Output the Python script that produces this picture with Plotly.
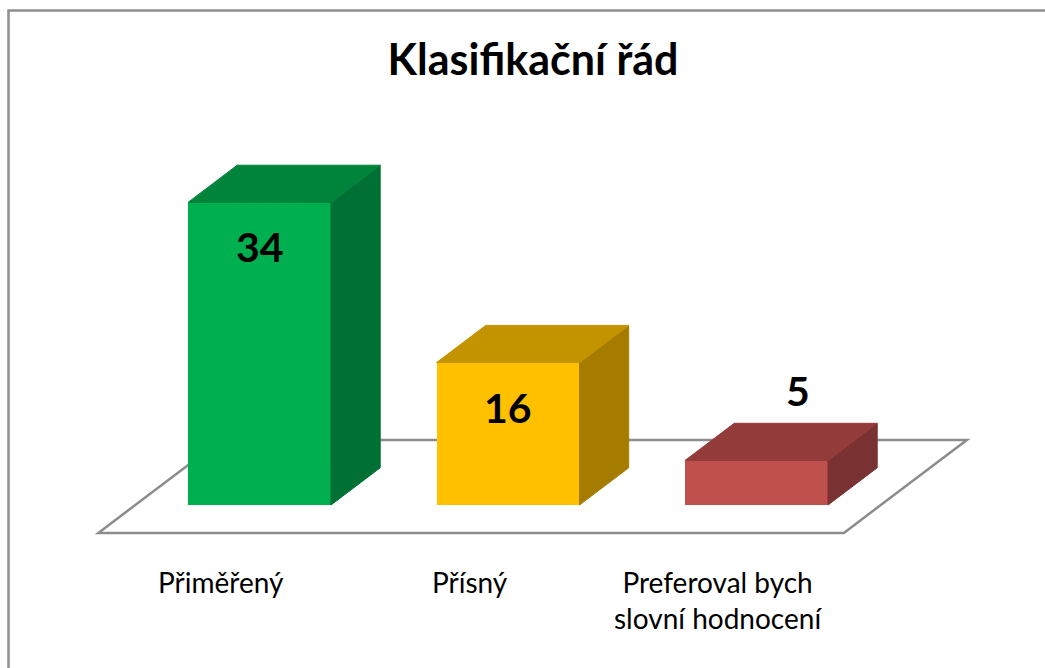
import plotly.graph_objects as go

# ---- data ----
categories = ["Přiměřený", "Přísný", "Preferoval bych<br>slovní hodnocení"]
values = [34, 16, 5]
front_colors = ["#00b050", "#ffc000", "#c0504d"]
top_colors = ["#00843c", "#c49300", "#943b3b"]
side_colors = ["#007034", "#a67c00", "#7a3131"]
title_text = "Klasifikační řád"

# ---- geometry (pseudo-3D projection, in axis units) ----
W, H = 1045, 668
PX_PER_CAT = 248.5
PX_PER_VAL = 8.9
X0_PX, Y0_PX = 259.5, 505
HW = 0.2877             # half bar width (category units)
DX, DY = 0.495, 10.45   # projection of a full floor depth
BAR_FRONT = 0.3         # depth of bar front faces on the floor
BAR_BACK = 0.7
BDX, BDY = (BAR_BACK - BAR_FRONT) * DX, (BAR_BACK - BAR_FRONT) * DY

xr = [(0 - X0_PX) / PX_PER_CAT, (W - X0_PX) / PX_PER_CAT]
yr = [-(H - Y0_PX) / PX_PER_VAL, Y0_PX / PX_PER_VAL]

n = len(values)
xs = list(range(n))

fig = go.Figure()

# front faces
fig.add_trace(go.Bar(
    x=xs, y=values, width=2 * HW,
    marker=dict(color=front_colors, line=dict(width=0)),
    hoverinfo="skip", showlegend=False,
))

# side + top faces
for i, v in enumerate(values):
    xl, xrgt = i - HW, i + HW
    fig.add_trace(go.Scatter(
        x=[xrgt, xrgt, xrgt + BDX, xrgt + BDX, xrgt],
        y=[0, v, v + BDY, BDY, 0],
        fill="toself", fillcolor=side_colors[i], mode="lines",
        line=dict(width=1, color=side_colors[i]),
        hoverinfo="skip", showlegend=False,
    ))
    fig.add_trace(go.Scatter(
        x=[xl, xrgt, xrgt + BDX, xl + BDX, xl],
        y=[v, v, v + BDY, v + BDY, v],
        fill="toself", fillcolor=top_colors[i], mode="lines",
        line=dict(width=1, color=top_colors[i]),
        hoverinfo="skip", showlegend=False,
    ))

# floor (below traces)
fl = -0.5 - BAR_FRONT * DX
fr = (n - 0.5) - BAR_FRONT * DX
bl = -0.5 + (1 - BAR_FRONT) * DX
br = (n - 0.5) + (1 - BAR_FRONT) * DX
fy = -BAR_FRONT * DY
by = (1 - BAR_FRONT) * DY
fig.add_shape(
    type="path", xref="x", yref="y", layer="below",
    path=f"M {fl},{fy} L {fr},{fy} L {br},{by} L {bl},{by} Z",
    line=dict(color="#8c8c8c", width=2.5), fillcolor="white",
)

# outer chart border
fig.add_shape(
    type="rect", xref="paper", yref="paper",
    x0=8.5 / W, x1=1.02, y0=-0.02, y1=1 - 10.5 / H,
    line=dict(color="#8f8f8f", width=2.5), fillcolor="rgba(0,0,0,0)",
)

# value labels
for i, v in enumerate(values):
    if v >= 10:
        lx, ly = i, v - 5.0
    else:
        lx, ly = i + 0.85 * BDX, v + BDY + 3.7
    fig.add_annotation(
        x=lx, y=ly, text=f"<b>{v}</b>", showarrow=False,
        font=dict(family="Lato", size=41, color="black"),
        xanchor="center", yanchor="middle",
    )

# category labels
for i, c in enumerate(categories):
    fig.add_annotation(
        x=i - 0.153, y=-6.5, text=c, showarrow=False,
        font=dict(family="Lato", size=28, color="black"),
        xanchor="center", yanchor="top", align="center",
    )

fig.update_layout(
    width=W, height=H,
    margin=dict(l=0, r=0, t=0, b=0),
    paper_bgcolor="white", plot_bgcolor="white",
    title=dict(
        text=f"<b>{title_text}</b>", x=533 / W, xanchor="center",
        y=1 - 60 / H, yanchor="middle", yref="container",
        font=dict(family="Lato", size=43, color="black"),
    ),
    xaxis=dict(range=xr, visible=False, fixedrange=True),
    yaxis=dict(range=yr, visible=False, fixedrange=True),
    bargap=0,
    showlegend=False,
)

fig.write_html(
    "out.html",
    config={"displayModeBar": False},
    post_script="document.body.style.margin='0px';document.body.style.overflow='hidden';",
)
